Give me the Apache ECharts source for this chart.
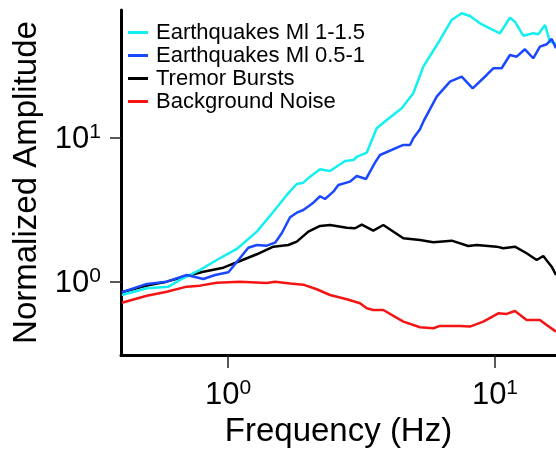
<!DOCTYPE html>
<html>
<head>
<meta charset="utf-8">
<script src="https://cdn.jsdelivr.net/npm/echarts@6/dist/echarts.min.js"></script>
<style>
html,body{margin:0;padding:0;background:#fff;}
#chart{width:556px;height:453px;}
</style>
</head>
<body>
<div id="chart"></div>
<script>
// Frequency (Hz) / normalized amplitude
const seriesNames = ['Earthquakes Ml 1-1.5', 'Earthquakes Ml 0.5-1', 'Tremor Bursts', 'Background Noise'];

const freqCyan = [0.400,0.496,0.598,0.661,0.785,0.907,1.078,1.281,1.478,1.660,1.809,1.914,2.028,2.211,2.410,2.743,2.947,3.034,3.307,3.605,3.930,4.473,4.943,5.389,6.223,6.884,7.503,8.060,8.786,9.44,10.44,11.38,11.88,12.76,13.91,14.53,15.39,16.07,16.93];
const ampCyan  = [0.812,0.904,0.928,1.033,1.212,1.421,1.695,2.235,3.077,4.020,4.792,4.893,5.386,6.062,5.900,6.923,7.035,7.380,7.906,11.68,13.34,16.08,20.43,31.27,47.93,65.98,73.45,70.35,62.58,58.34,53.35,68.46,64.21,51.33,53.35,52.49,60.91,46.65,45.0];

const freqBlue = [0.400,0.496,0.589,0.700,0.808,0.894,1.003,1.191,1.281,1.396,1.500,1.589,1.707,1.809,1.914,2.087,2.211,2.308,2.480,2.589,2.864,3.034,3.288,3.552,3.709,4.536,4.804,4.943,5.237,5.389,6.049,6.784,7.503,8.250,9.31,9.85,10.59,11.38,12.06,12.95,13.91,14.74,15.62,16.31,16.93];
const ampBlue  = [0.848,0.969,1.005,1.118,1.049,1.118,1.168,1.730,1.807,1.787,1.875,2.179,2.814,3.029,3.162,3.553,3.937,3.770,4.238,4.716,4.972,5.446,5.192,6.737,7.618,8.942,8.942,9.952,11.5,12.98,19.36,24.60,26.66,22.13,27.38,30.48,30.48,37.70,36.69,41.30,35.77,43.05,44.74,48.70,42.0];

const freqBlack = [0.400,0.496,0.589,0.700,0.808,0.960,1.109,1.281,1.478,1.682,1.809,1.999,2.211,2.410,2.784,2.990,3.168,3.501,3.816,4.536,5.237,5.874,6.884,7.943,8.540,10.15,10.74,11.88,13.14,14.33,15.17,16.31,16.93];
const ampBlack  = [0.848,0.943,1.005,1.101,1.179,1.257,1.399,1.557,1.759,1.807,1.905,2.235,2.448,2.488,2.383,2.360,2.500,2.271,2.488,2.012,1.957,1.887,1.935,1.778,1.807,1.759,1.714,1.759,1.582,1.421,1.516,1.277,1.118];

const freqRed = [0.400,0.496,0.589,0.700,0.785,0.907,1.109,1.396,1.500,1.707,1.914,2.149,2.410,2.784,3.122,3.307,3.501,3.816,4.536,5.237,5.874,6.223,7.393,8.060,9.04,10.29,11.06,11.88,13.14,14.74,15.62,16.93];
const ampRed  = [0.718,0.803,0.856,0.928,0.943,0.989,1.005,0.985,1.005,0.975,0.958,0.890,0.812,0.758,0.711,0.657,0.639,0.639,0.530,0.485,0.477,0.495,0.495,0.490,0.530,0.606,0.600,0.629,0.545,0.545,0.503,0.452];

const tickValues = [1, 10];
const tickExponents = ['0', '1'];

const FONT = '"Liberation Sans", Arial, Helvetica, sans-serif';

function pairs(f, a) { return f.map((v, i) => [v, a[i]]); }

function expLabel(value) {
  let idx = tickValues.findIndex(t => Math.abs(t - value) / t < 1e-6);
  if (idx < 0) return '';
  return '{b|10}{s|' + tickExponents[idx] + '}';
}

const richLabel = {
  b: { fontSize: 31, lineHeight: 33, verticalAlign: 'bottom', fontFamily: FONT, color: '#000' },
  s: { fontSize: 21, lineHeight: 21, verticalAlign: 'top', fontFamily: FONT, color: '#000' }
};

const chart = echarts.init(document.getElementById('chart'), null, { renderer: 'canvas' });

const lineW = 2.5;
const option = {
  animation: false,
  backgroundColor: '#fff',
  textStyle: { fontFamily: FONT },
  grid: { left: 121, right: 0, top: 10, bottom: 98, containLabel: false, outerBoundsMode: 'none' },
  legend: {
    show: true,
    orient: 'vertical',
    left: 128,
    top: 21,
    padding: 0,
    itemGap: 0,
    itemWidth: 20,
    itemHeight: 3,
    icon: 'rect',
    data: seriesNames,
    textStyle: { fontSize: 22, lineHeight: 23, color: '#000', fontFamily: FONT, padding: [0, 0, 0, 3] }
  },
  xAxis: {
    type: 'log',
    logBase: 10,
    min: 0.397,
    max: 16.93,
    name: 'Frequency (Hz)',
    nameLocation: 'middle',
    nameGap: 60,
    nameTextStyle: { fontSize: 33, color: '#000', fontFamily: FONT },
    axisLine: { show: true, onZero: false, lineStyle: { color: '#000', width: 3 } },
    axisTick: { show: true, length: 13, customValues: tickValues, lineStyle: { color: '#222', width: 1.5 } },
    axisLabel: { show: true, margin: 23, customValues: tickValues, formatter: expLabel, rich: richLabel },
    splitLine: { show: false },
    minorTick: { show: false }
  },
  yAxis: {
    type: 'log',
    logBase: 10,
    min: 0.311,
    max: 77.4,
    name: 'Normalized Amplitude',
    nameLocation: 'middle',
    nameGap: 78,
    nameTextStyle: { fontSize: 33, color: '#000', fontFamily: FONT },
    axisLine: { show: true, onZero: false, lineStyle: { color: '#000', width: 3 } },
    axisTick: { show: true, length: 11, customValues: tickValues, lineStyle: { color: '#222', width: 1.5 } },
    axisLabel: { show: true, margin: 20, customValues: tickValues, formatter: expLabel, rich: richLabel },
    splitLine: { show: false },
    minorTick: { show: false }
  },
  series: [
    { name: seriesNames[0], type: 'line', data: pairs(freqCyan, ampCyan), showSymbol: false, symbol: 'none', z: 3,
      color: '#14F0F0', lineStyle: { color: '#14F0F0', width: lineW } },
    { name: seriesNames[1], type: 'line', data: pairs(freqBlue, ampBlue), showSymbol: false, symbol: 'none', z: 4,
      color: '#1A48FF', lineStyle: { color: '#1A48FF', width: lineW } },
    { name: seriesNames[2], type: 'line', data: pairs(freqBlack, ampBlack), showSymbol: false, symbol: 'none', z: 2,
      color: '#000000', lineStyle: { color: '#000000', width: lineW } },
    { name: seriesNames[3], type: 'line', data: pairs(freqRed, ampRed), showSymbol: false, symbol: 'none', z: 2,
      color: '#F51414', lineStyle: { color: '#F51414', width: lineW } }
  ]
};
chart.setOption(option);
</script>
</body>
</html>
